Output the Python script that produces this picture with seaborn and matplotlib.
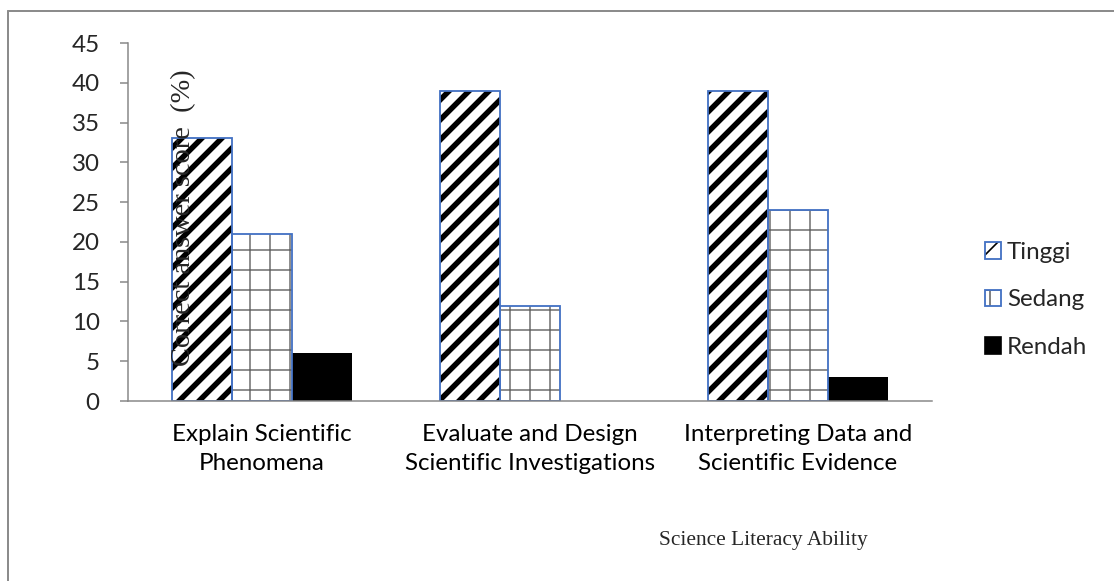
import matplotlib
matplotlib.use("Agg")
import matplotlib.pyplot as plt
from matplotlib.patches import Rectangle, Patch
from matplotlib.lines import Line2D
from matplotlib.legend_handler import HandlerTuple
import seaborn as sns
import pandas as pd

categories = ["Explain Scientific\nPhenomena",
              "Evaluate and Design\nScientific Investigations",
              "Interpreting Data and\nScientific Evidence"]
levels = ["Tinggi", "Sedang", "Rendah"]
tinggi = [33, 39, 39]
sedang = [21, 12, 24]
rendah = [6, 0, 3]
y_ticks = [0, 5, 10, 15, 20, 25, 30, 35, 40, 45]

rows = []
for lvl, vals in zip(levels, [tinggi, sedang, rendah]):
    for c, v in zip(categories, vals):
        rows.append({"cat": c, "level": lvl, "value": v})
df = pd.DataFrame(rows)

sns.set_style("white")
plt.rcParams["font.family"] = ["Lato", "DejaVu Sans"]

DPI = 120
FS = 14.5
fig = plt.figure(figsize=(1114 / DPI, 581 / DPI), dpi=DPI)
ax = fig.add_axes([128 / 1114, 1 - 401 / 581, 804 / 1114, 358 / 581])

BLUE = "#4472C4"
GRAY = "#868686"
GRID = "#6a6a6a"

sns.barplot(data=df, x="cat", y="value", hue="level", order=categories,
            hue_order=levels, palette=["white", "white", "black"],
            width=0.67, gap=0, ax=ax, legend=False, saturation=1)

styles = [("//", "black", 3.3), ("+", GRID, 0.9), (None, "black", 0)]
for cont, (h, hc, hlw) in zip(ax.containers, styles):
    for p in cont.patches:
        if h is None:
            p.set_facecolor("black")
            p.set_edgecolor("black")
            p.set_linewidth(0)
            continue
        p.set_facecolor("white")
        p.set_edgecolor(hc)
        p.set_linewidth(0)
        p.set_hatch(h)
        if hasattr(p, "set_hatch_linewidth"):
            p.set_hatch_linewidth(hlw)
        r = Rectangle((p.get_x(), p.get_y()), p.get_width(), p.get_height(),
                      fill=False, edgecolor=BLUE, linewidth=1.1, zorder=p.get_zorder() + 0.1)
        ax.add_patch(r)

ax.set_ylim(0, 45)
ax.set_xlim(-0.5, 2.5)
ax.set_yticks(y_ticks)
ax.set_yticklabels([str(t) for t in y_ticks])
ax.set_xticks(range(len(categories)))
ax.set_xticklabels(categories, linespacing=1.45)
ax.set_xticks([-0.5, 0.5, 1.5, 2.5], minor=True)
ax.tick_params(axis="x", which="major", length=0, pad=14, labelsize=FS, colors="black")
ax.tick_params(axis="x", which="minor", length=5, width=0.9, color=GRAY, direction="out")
ax.tick_params(axis="y", which="major", length=5, width=0.9, color=GRAY, pad=12,
               labelsize=FS, direction="out", left=True)
ax.set_xlabel("")
ax.set_ylabel("")
for s in ["top", "right"]:
    ax.spines[s].set_visible(False)
for s in ["left", "bottom"]:
    ax.spines[s].set_color(GRAY)
    ax.spines[s].set_linewidth(0.9)

fig.text(184 / 1114, 1 - 218 / 581, "Correct answer score  (%)", rotation=90,
         ha="center", va="center", fontsize=17, family=["Liberation Serif", "DejaVu Serif"])
fig.text(763 / 1114, 1 - 540 / 581, "Science Literacy Ability",
         ha="center", va="center", fontsize=12.8, family=["Liberation Serif", "DejaVu Serif"])

# legend
h1 = (Patch(facecolor="white", edgecolor="black", hatch="//", linewidth=0),
      Patch(facecolor="none", edgecolor=BLUE, linewidth=1.1))
h2 = (Patch(facecolor="white", edgecolor=GRID, hatch="+", linewidth=0),
      Patch(facecolor="none", edgecolor=BLUE, linewidth=1.1))
h3 = Patch(facecolor="black", edgecolor="black")
fig.legend([h1, h2, h3], levels, handler_map={tuple: HandlerTuple(ndivide=1, pad=0)},
           loc="center left", bbox_to_anchor=(963 / 1114, 1 - 300 / 581),
           frameon=False, handlelength=0.66, handleheight=0.66, handletextpad=0.25,
           labelspacing=1.1, fontsize=FS, borderpad=0.4)

# outer border
fig.add_artist(Line2D([8 / 1114, 1.0], [1 - 11 / 581, 1 - 11 / 581],
                      transform=fig.transFigure, color="#8c8c8c", linewidth=1.2))
fig.add_artist(Line2D([8 / 1114, 8 / 1114], [1 - 11 / 581, 0.0],
                      transform=fig.transFigure, color="#8c8c8c", linewidth=1.2))

fig.savefig("out.png", dpi=DPI)
